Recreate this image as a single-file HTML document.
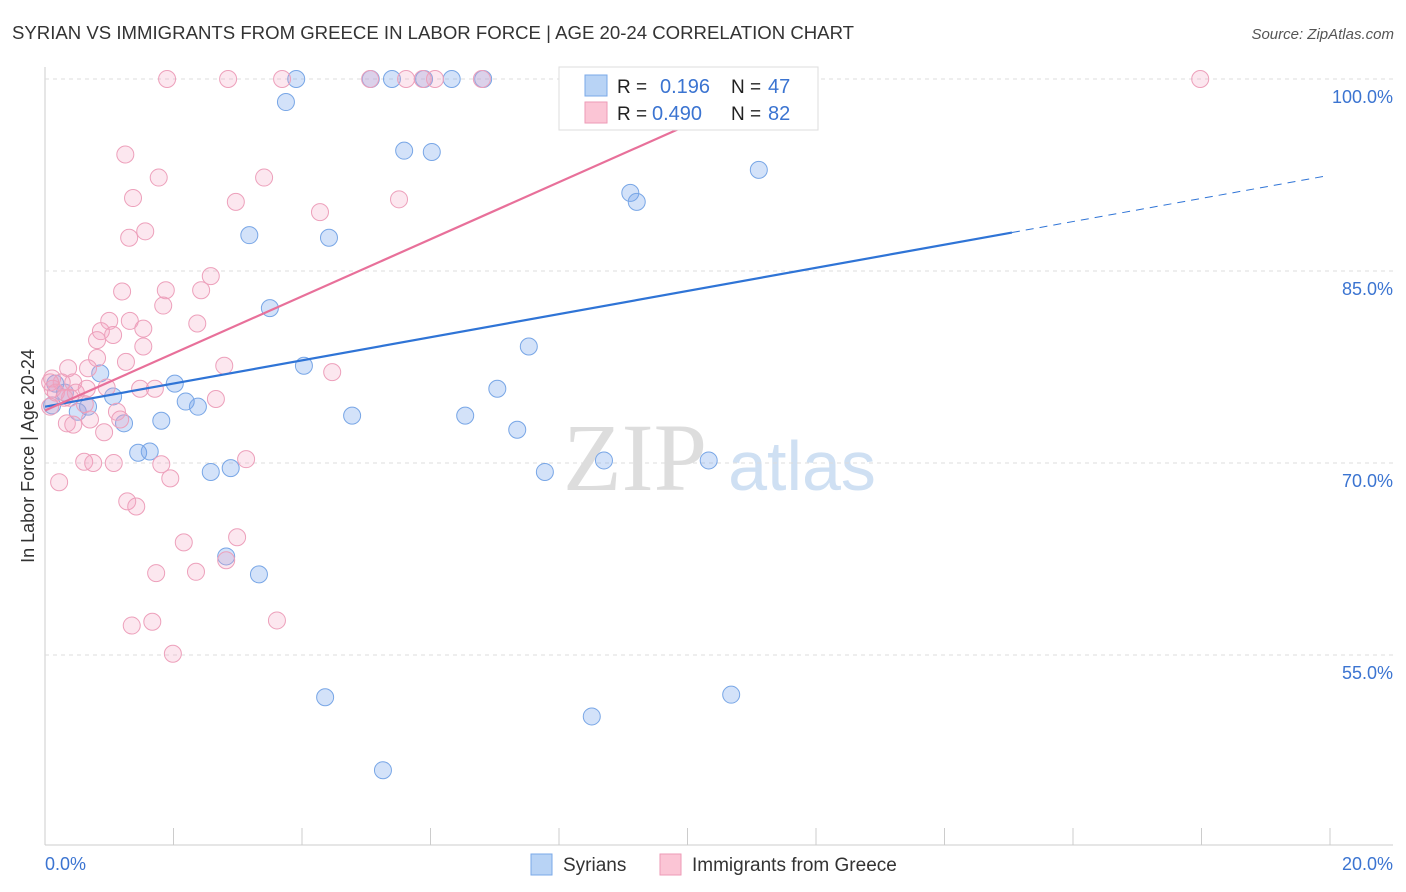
<!DOCTYPE html>
<html><head><meta charset="utf-8"><style>
body{margin:0;background:#fff;font-family:"Liberation Sans",sans-serif;}
svg{display:block}
</style></head><body>
<svg id="c" width="1406" height="892">
<text x="12" y="39" font-size="18.6" fill="#333">SYRIAN VS IMMIGRANTS FROM GREECE IN LABOR FORCE | AGE 20-24 CORRELATION CHART</text>
<text x="1394" y="39" font-size="15" fill="#555" font-style="italic" text-anchor="end">Source: ZipAtlas.com</text>
<g>
<text x="635" y="490" font-size="96" fill="#ddd" font-family="Liberation Serif" text-anchor="middle">ZIP</text>
<text x="802" y="490" font-size="70" fill="#cfe0f3" text-anchor="middle">atlas</text>
</g>
<g id="grid"></g>
<g id="marks"></g>
<g id="lines"></g>
<text transform="translate(34,456) rotate(-90)" font-size="18" fill="#333" text-anchor="middle">In Labor Force | Age 20-24</text>
<g>
<rect x="559" y="67" width="259" height="63" fill="#fff" stroke="#ddd"/>
<rect x="585" y="75" width="22" height="21" fill="#b8d3f5" stroke="#7aa8e8"/>
<rect x="585" y="102" width="22" height="21" fill="#fbc5d5" stroke="#ee9ab6"/>
<text x="617" y="93" font-size="19" fill="#222">R = </text><text x="660" y="93" font-size="20" fill="#3b74d1">0.196</text>
<text x="731" y="93" font-size="19" fill="#222">N = </text><text x="768" y="93" font-size="20" fill="#3b74d1">47</text>
<text x="617" y="120" font-size="19" fill="#222">R = </text><text x="652" y="120" font-size="20" fill="#3b74d1">0.490</text>
<text x="731" y="120" font-size="19" fill="#222">N = </text><text x="768" y="120" font-size="20" fill="#3b74d1">82</text>
</g>
<g>
<rect x="531" y="854" width="21" height="21" fill="#b8d3f5" stroke="#7aa8e8"/>
<text x="563" y="871" font-size="19" fill="#333">Syrians</text>
<rect x="660" y="854" width="21" height="21" fill="#fbc5d5" stroke="#ee9ab6"/>
<text x="692" y="871" font-size="19" fill="#333">Immigrants from Greece</text>
</g>
</svg>
<script>
const xTicks=[0,2,4,6,8,10,12,14,16,18,20];
const yTicks=[55,70,85,100];
const yTickLabels=["55.0%","70.0%","85.0%","100.0%"];
const blueX=[3.91,5.07,5.40,5.90,6.33,6.82,3.75,5.59,6.02,9.11,9.21,11.11,3.18,4.42,3.50,7.53,4.03,7.04,2.02,2.19,2.38,4.78,6.54,7.35,1.81,1.23,1.45,1.63,2.58,2.89,7.78,8.70,10.33,2.82,3.33,4.36,8.51,10.68,5.26,0.16,0.31,0.86,1.06,0.67,0.51,0.11,10.83];
const blueY=[100,100,100,100,100,100,98.2,94.4,94.3,91.1,90.4,92.9,87.8,87.6,82.1,79.1,77.6,75.8,76.2,74.8,74.4,73.7,73.7,72.6,73.3,73.1,70.8,70.9,69.3,69.6,69.3,70.2,70.2,62.7,61.3,51.7,50.2,51.9,46.0,76.2,75.5,77.0,75.2,74.4,74.0,74.5,100];
const pinkX=[1.90,2.85,3.69,5.06,5.62,5.88,6.07,6.80,17.98,10.01,1.25,1.77,1.37,2.97,3.41,4.28,5.51,1.56,1.31,2.58,1.20,1.88,2.43,1.84,2.37,1.00,1.32,0.87,1.06,1.53,1.53,0.81,0.81,1.26,2.79,4.47,0.36,0.67,0.11,0.26,0.44,0.12,0.48,0.65,0.96,1.48,1.71,0.39,0.62,0.08,2.66,1.12,1.17,0.70,0.34,0.44,0.92,0.61,0.75,1.07,1.81,3.13,1.95,0.22,1.28,1.42,2.99,2.16,2.82,1.73,2.35,3.61,1.35,1.67,1.99,0.08,0.17,0.30];
const pinkY=[100,100,100,100,100,100,100,100,100,100,94.1,92.3,90.7,90.4,92.3,89.6,90.6,88.1,87.6,84.6,83.4,83.5,83.5,82.3,80.9,81.1,81.1,80.3,80.0,80.5,79.1,79.6,78.2,77.9,77.6,77.1,77.4,77.4,76.6,76.3,76.3,75.8,75.5,75.8,75.9,75.8,75.8,75.1,74.6,74.4,75.0,74.0,73.4,73.4,73.1,73.0,72.4,70.1,70.0,70.0,69.9,70.3,68.8,68.5,67.0,66.6,64.2,63.8,62.4,61.4,61.5,57.7,57.3,57.6,55.1,76.3,75.5,75.1];
const blueTrend=[74.4,0.904];
const pinkTrend=[74.1,2.23];
const NS="http://www.w3.org/2000/svg";
const sx=v=>45+v*64.25, sy=v=>79+(100-v)*12.8;
function mk(t,a,p){const e=document.createElementNS(NS,t);for(const k in a)e.setAttribute(k,a[k]);p.appendChild(e);return e;}
const g=document.getElementById('grid'),m=document.getElementById('marks'),L=document.getElementById('lines');
mk('line',{x1:45,y1:67,x2:45,y2:845,stroke:'#ccc'},g);
mk('line',{x1:45,y1:845,x2:1393,y2:845,stroke:'#ccc'},g);
yTicks.forEach((v,i)=>{
 const l=mk('line',{x1:45,y1:sy(v),x2:1393,y2:sy(v),stroke:'#ddd','stroke-dasharray':'4,4'},g);
 
 
 const t=mk('text',{x:1393,y:sy(v)+24,'font-size':18,fill:'#3b74d1','text-anchor':'end'},g);t.textContent=yTickLabels[i];
 
 
});
xTicks.forEach(v=>{
 const l=mk('line',{x1:sx(v),y1:828,x2:sx(v),y2:845,stroke:'#ccc'},g);
 
 
});
[[0,'0.0%','start',45],[20,'20.0%','end',1393]].forEach(d=>{
 const t=mk('text',{x:d[3],y:870,'font-size':18,fill:'#3b74d1','text-anchor':d[2]},g);t.textContent=d[1];
 
 
});
blueX.forEach((x,i)=>{
 const c=mk('circle',{cx:sx(x),cy:sy(blueY[i]),r:8.5,fill:'rgba(110,160,235,0.3)',stroke:'#78a6e6','stroke-width':1},m);
 
 
});
pinkX.forEach((x,i)=>{
 const c=mk('circle',{cx:sx(x),cy:sy(pinkY[i]),r:8.5,fill:'rgba(245,160,190,0.25)',stroke:'#eda0bb','stroke-width':1},m);
 
 
});
const f=(t,x)=>t[0]+t[1]*x;
let l1=mk('line',{x1:sx(0),y1:sy(f(blueTrend,0)),x2:sx(15.05),y2:sy(f(blueTrend,15.05)),stroke:'#2f74d6','stroke-width':2.2},L);


let l2=mk('line',{x1:sx(15.05),y1:sy(f(blueTrend,15.05)),x2:sx(19.97),y2:sy(f(blueTrend,19.97)),stroke:'#2f74d6','stroke-width':1,'stroke-dasharray':'8,6'},L);


let l3=mk('line',{x1:sx(0),y1:sy(f(pinkTrend,0)),x2:sx(11.28),y2:sy(f(pinkTrend,11.28)),stroke:'#e8709a','stroke-width':2.2},L);


</script>
</body></html>
